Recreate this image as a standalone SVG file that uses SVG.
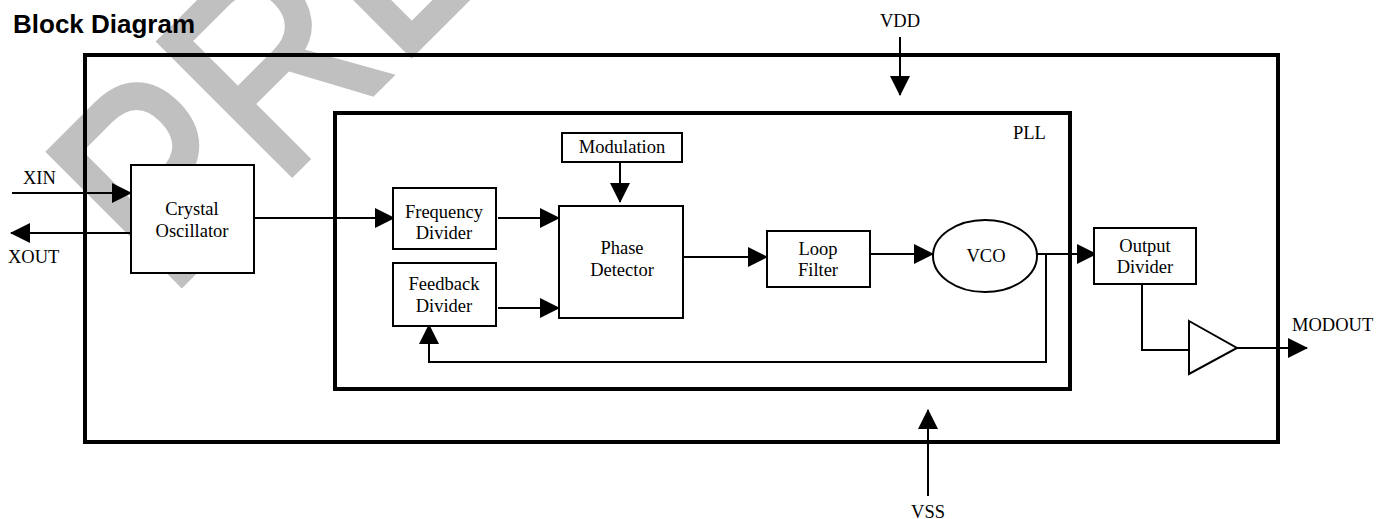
<svg xmlns="http://www.w3.org/2000/svg" width="1387" height="519" viewBox="0 0 1387 519">
<style>
.t{font-family:"Liberation Serif","Times New Roman",serif;font-size:18.5px;fill:#000;text-anchor:middle}
.tl{font-family:"Liberation Serif","Times New Roman",serif;font-size:18.5px;fill:#000}
.box{fill:#fff;stroke:#000;stroke-width:2}
.frame{fill:none;stroke:#000;stroke-width:4}
.w{fill:none;stroke:#000;stroke-width:2}
</style>
<defs>
<marker id="ah" markerUnits="userSpaceOnUse" markerWidth="20" markerHeight="20" refX="19" refY="10" orient="auto" viewBox="0 0 20 20">
<path d="M0,0 L20,10 L0,20 z" fill="#000"/>
</marker>
</defs>
<rect width="1387" height="519" fill="#fff"/>
<text id="watermark" transform="translate(168,298) rotate(-45) scale(0.86,1)" font-family="Liberation Sans, Arial, sans-serif" font-size="272" fill="#c0c0c0" stroke="#c0c0c0" stroke-width="6">PRE</text>
<text id="title" x="13" y="33" font-family="Liberation Sans, Arial, sans-serif" font-size="26" font-weight="bold" fill="#000">Block Diagram</text>
<g id="chip"><rect class="frame" x="85" y="55" width="1193" height="387"/></g>
<g id="pll"><rect class="frame" x="335" y="113" width="735" height="276"/><text class="tl" x="1013" y="139">PLL</text></g>
<g id="connectors">
<line class="w" x1="12" y1="193" x2="131" y2="193" marker-end="url(#ah)"/>
<line class="w" x1="131" y1="233" x2="11" y2="233" marker-end="url(#ah)"/>
<line class="w" x1="254" y1="218" x2="394" y2="218" marker-end="url(#ah)"/>
<line class="w" x1="498" y1="218" x2="559" y2="218" marker-end="url(#ah)"/>
<line class="w" x1="498" y1="308" x2="559" y2="308" marker-end="url(#ah)"/>
<line class="w" x1="620" y1="162" x2="620" y2="202" marker-end="url(#ah)"/>
<line class="w" x1="683" y1="257" x2="767" y2="257" marker-end="url(#ah)"/>
<line class="w" x1="870" y1="254" x2="933" y2="254" marker-end="url(#ah)"/>
<line class="w" x1="1037" y1="254" x2="1096" y2="254" marker-end="url(#ah)"/>
<polyline class="w" points="1046,254 1046,362 429,362 429,325" marker-end="url(#ah)"/>
<polyline class="w" points="1142,284 1142,350 1189,350"/>
<line class="w" x1="1237" y1="348" x2="1307" y2="348" marker-end="url(#ah)"/>
<line class="w" x1="900" y1="37" x2="900" y2="95" marker-end="url(#ah)"/>
<line class="w" x1="928" y1="496" x2="928" y2="410" marker-end="url(#ah)"/>
</g>
<g id="xin"><text class="tl" x="23" y="184">XIN</text></g>
<g id="xout"><text class="tl" x="8" y="263">XOUT</text></g>
<g id="vdd"><text class="t" x="900" y="27">VDD</text></g>
<g id="vss"><text class="t" x="928" y="518">VSS</text></g>
<g id="modout"><text class="tl" x="1292" y="331">MODOUT</text></g>
<g id="crystal"><rect class="box" x="131" y="165" width="123" height="108"/><text class="t" x="192" y="215">Crystal</text><text class="t" x="192" y="237">Oscillator</text></g>
<g id="freqdiv"><rect class="box" x="393" y="188" width="103" height="61"/><text class="t" x="444" y="218">Frequency</text><text class="t" x="444" y="239">Divider</text></g>
<g id="fbdiv"><rect class="box" x="393" y="263" width="103" height="63"/><text class="t" x="444" y="290">Feedback</text><text class="t" x="444" y="312">Divider</text></g>
<g id="modulation"><rect class="box" x="562" y="133" width="120" height="29"/><text class="t" x="622" y="153">Modulation</text></g>
<g id="pd"><rect class="box" x="559" y="206" width="124" height="112"/><text class="t" x="622" y="254">Phase</text><text class="t" x="622" y="276">Detector</text></g>
<g id="loop"><rect class="box" x="767" y="231" width="103" height="56"/><text class="t" x="818" y="255">Loop</text><text class="t" x="818" y="276">Filter</text></g>
<g id="vco"><ellipse class="box" cx="985" cy="256" rx="52" ry="36"/><text class="t" x="986" y="262">VCO</text></g>
<g id="outdiv"><rect class="box" x="1094" y="228" width="102" height="56"/><text class="t" x="1145" y="252">Output</text><text class="t" x="1145" y="273">Divider</text></g>
<g id="buffer"><polygon class="box" points="1189,321 1237,348 1189,374"/></g>
</svg>
